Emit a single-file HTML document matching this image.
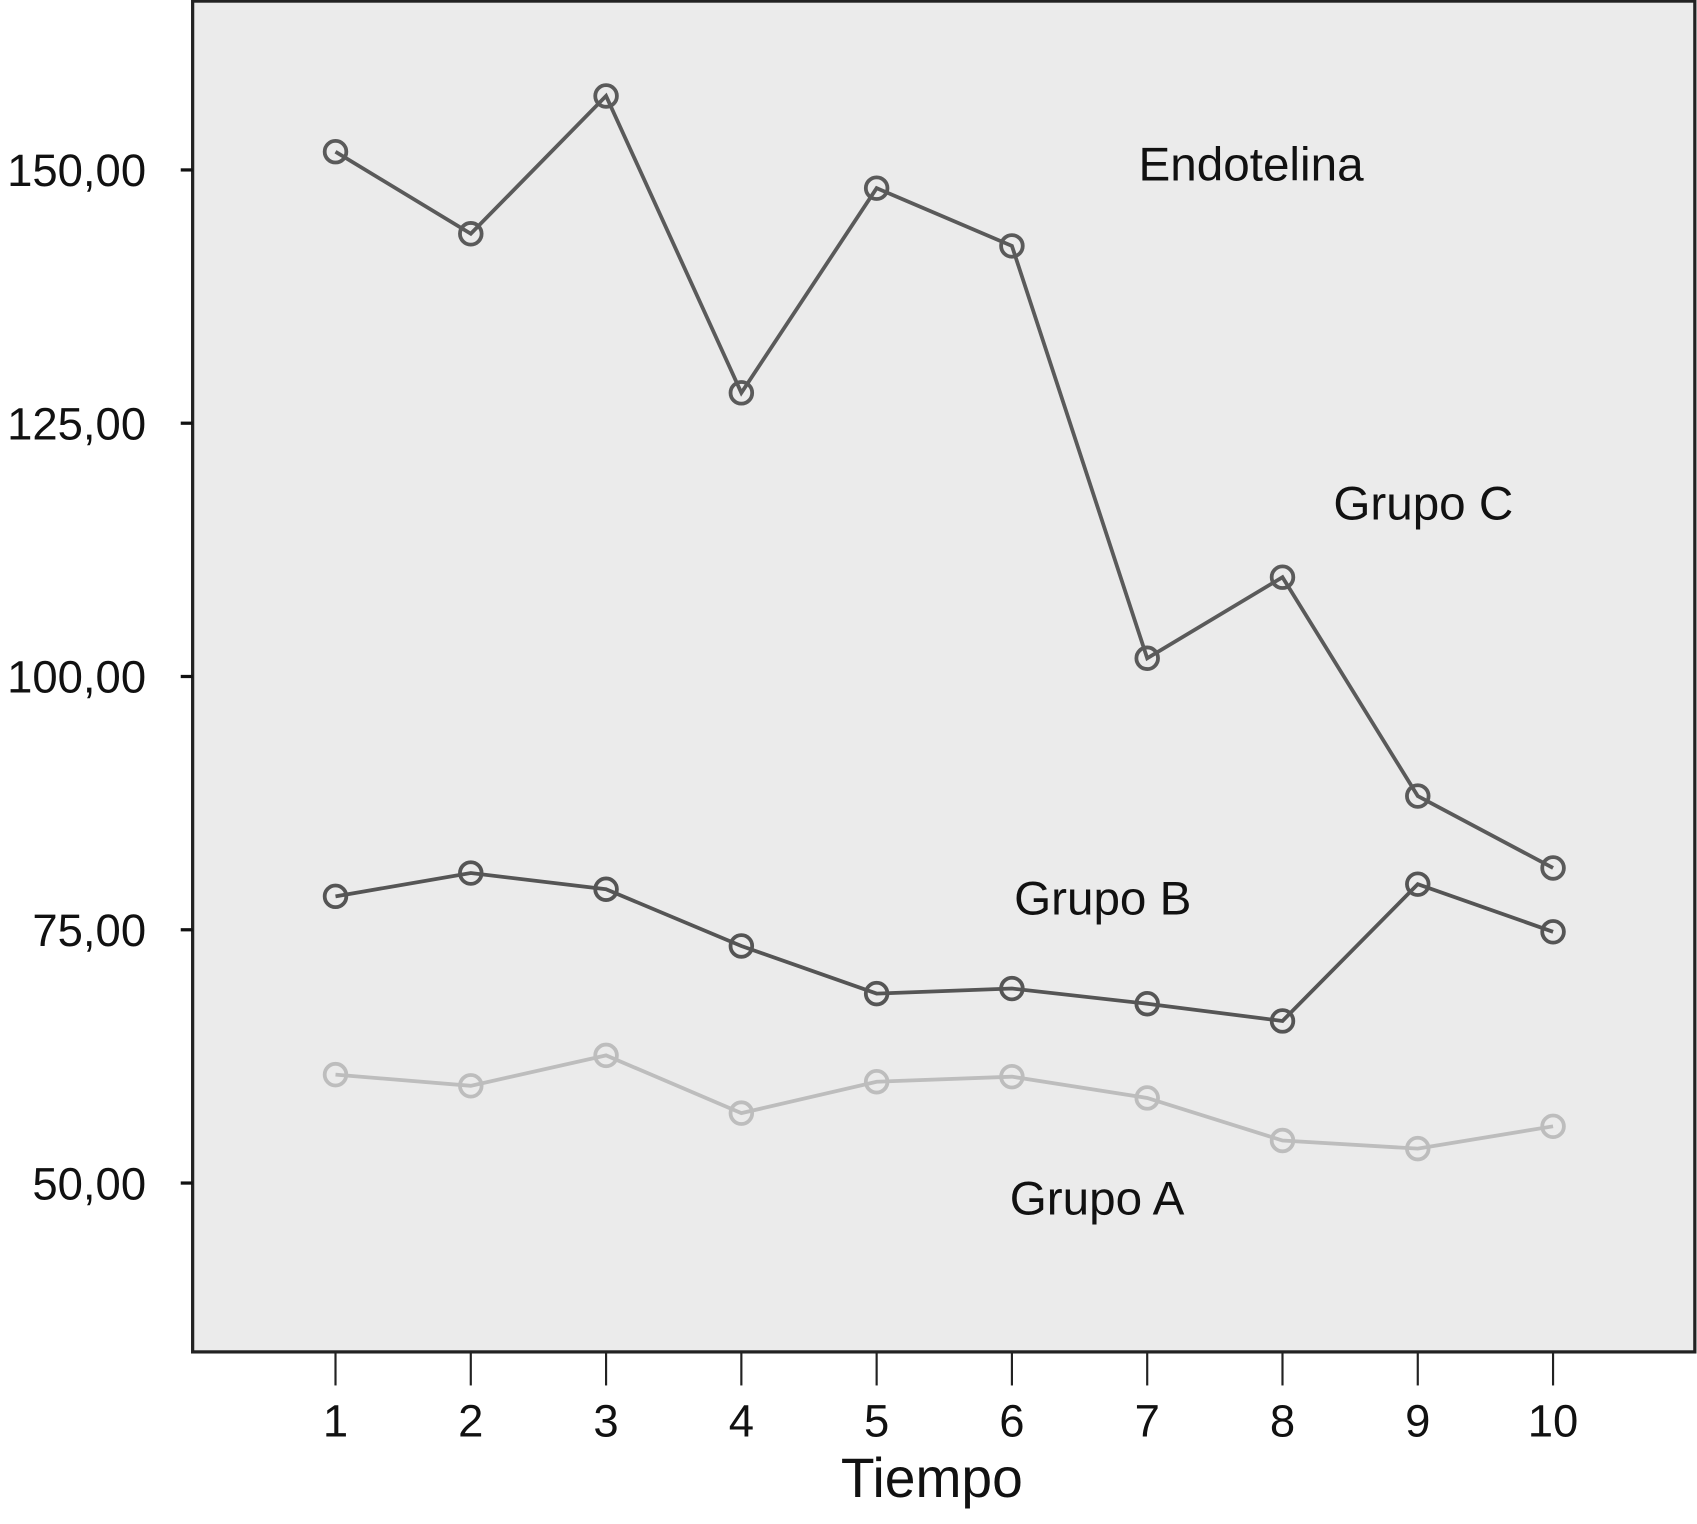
<!DOCTYPE html>
<html><head><meta charset="utf-8"><style>
html,body{margin:0;padding:0;background:#fff;}
svg{display:block;}
text{font-family:"Liberation Sans",sans-serif;fill:#111;}
</style></head><body>
<svg id="chart" width="1697" height="1524" viewBox="0 0 1568 1408" preserveAspectRatio="none" xmlns="http://www.w3.org/2000/svg">
<rect x="178" y="1" width="1388" height="1248" fill="#ebebeb" stroke="#222" stroke-width="3"/>
<g id="axes"></g>
<g id="series"></g>
<text x="1052" y="167" font-size="44">Endotelina</text>
<text x="1232" y="480" font-size="44">Grupo C</text>
<text x="937" y="845" font-size="44">Grupo B</text>
<text x="933" y="1122" font-size="44">Grupo A</text>
<text x="861" y="1383" font-size="51" text-anchor="middle">Tiempo</text>
</svg>
<script>
const categories = [1,2,3,4,5,6,7,8,9,10];
const grupoC = [151.8,143.7,157.3,128.0,148.2,142.5,101.8,109.8,88.2,81.1];
const grupoB = [78.3,80.6,79.0,73.4,68.7,69.2,67.7,66.0,79.5,74.8];
const grupoA = [60.7,59.6,62.6,56.9,60.0,60.5,58.4,54.2,53.4,55.6];
const yTicks = [50,75,100,125,150];
const yTickLabels = ["50,00","75,00","100,00","125,00","150,00"];

const NS = "http://www.w3.org/2000/svg";
function xS(c){ return 310 + (c-1)*125; }
function yS(v){ return 157 + (150 - v) * 9.36; }
function mk(tag, attrs, parent){ const e=document.createElementNS(NS,tag); for(const k in attrs) e.setAttribute(k,attrs[k]); parent.appendChild(e); return e; }
const axes=document.getElementById('axes'), series=document.getElementById('series');
yTicks.forEach((t,i)=>{
  const l=mk('line',{x1:167,x2:178,y1:yS(t),y2:yS(t),stroke:'#111','stroke-width':3},axes);
  
  
  const tx=mk('text',{x:135,y:yS(t)+15,'font-size':42,'text-anchor':'end'},axes);
  tx.textContent=yTickLabels[i];
  
  
});
categories.forEach(c=>{
  const l=mk('line',{x1:xS(c),x2:xS(c),y1:1250,y2:1280,stroke:'#222','stroke-width':2},axes);
  
  
  const tx=mk('text',{x:xS(c),y:1327,'font-size':42,'text-anchor':'middle'},axes);
  tx.textContent=String(c);
  
  
});
function draw(vals,color,name){
  const pts=vals.map((v,i)=>xS(categories[i])+','+yS(v)).join(' ');
  const pl=mk('polyline',{points:pts,fill:'none',stroke:color,'stroke-width':3.5},series);
  
  
  vals.forEach((v,i)=>{
    const c=mk('circle',{cx:xS(categories[i]),cy:yS(v),r:10,fill:'none',stroke:color,'stroke-width':3.5},series);
    
    
  });
}
draw(grupoA,'#bdbdbd','grupo-a');
draw(grupoB,'#555','grupo-b');
draw(grupoC,'#5a5a5a','grupo-c');
</script>
</body></html>
